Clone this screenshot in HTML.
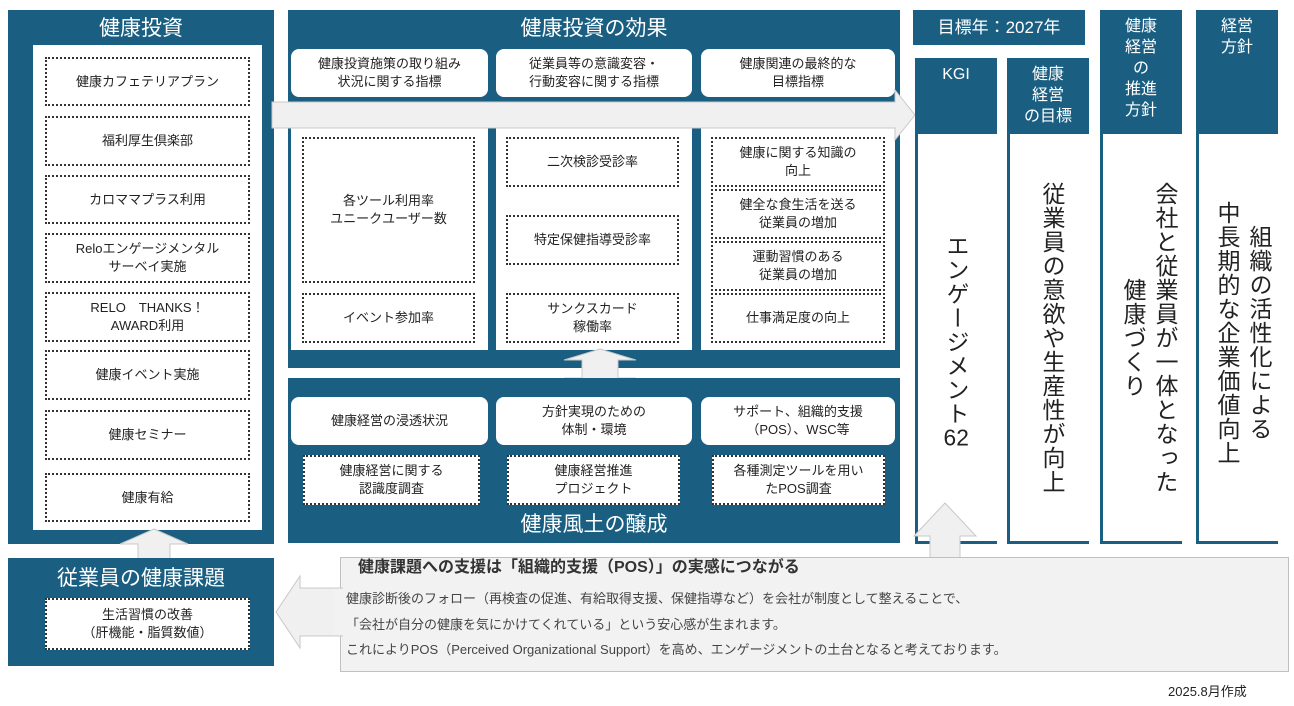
<!DOCTYPE html>
<html><head><meta charset="utf-8"><style>
body{margin:0;width:1294px;height:706px;background:#fff;position:relative;overflow:hidden;font-family:"Liberation Sans","Noto Sans CJK JP",sans-serif;color:#222}
.a{position:absolute;box-sizing:border-box}
.bl{background:#1a5f82}
.t{color:#fff;font-size:21px;text-align:center}
.w{background:#fff}
.d{background:#fff;border:2px dotted #333;display:flex;align-items:center;justify-content:center;text-align:center;font-size:13px;line-height:18px}
.r{background:#fff;border-radius:8px;display:flex;align-items:center;justify-content:center;text-align:center;font-size:13px;line-height:18px}
.col{border-left:3px solid #1a5f82;border-bottom:3px solid #1a5f82;background:#fff}
.hd{color:#fff;font-size:16px;text-align:center;line-height:21px;padding-top:6px}
.v{writing-mode:vertical-rl;font-size:23px;line-height:32px;letter-spacing:1px;text-align:center;position:absolute;color:#222;white-space:nowrap}
</style></head><body>
<!-- left panel -->
<div class="a bl" style="left:8px;top:10px;width:266px;height:534px"></div>
<div class="a t" style="left:8px;top:12px;width:266px">健康投資</div>
<div class="a w" style="left:33px;top:45px;width:229px;height:485px"></div>
<div class="a d" style="left:45px;top:57px;width:205px;height:49px">健康カフェテリアプラン</div>
<div class="a d" style="left:45px;top:116px;width:205px;height:50px">福利厚生倶楽部</div>
<div class="a d" style="left:45px;top:175px;width:205px;height:49px">カロママプラス利用</div>
<div class="a d" style="left:45px;top:233px;width:205px;height:50px">Reloエンゲージメンタル<br>サーベイ実施</div>
<div class="a d" style="left:45px;top:292px;width:205px;height:50px">RELO　THANKS！<br>AWARD利用</div>
<div class="a d" style="left:45px;top:350px;width:205px;height:50px">健康イベント実施</div>
<div class="a d" style="left:45px;top:410px;width:205px;height:50px">健康セミナー</div>
<div class="a d" style="left:45px;top:473px;width:205px;height:49px">健康有給</div>

<!-- middle top -->
<div class="a bl" style="left:288px;top:10px;width:612px;height:358px"></div>
<div class="a t" style="left:288px;top:12px;width:612px">健康投資の効果</div>
<div class="a r" style="left:291px;top:49px;width:197px;height:48px">健康投資施策の取り組み<br>状況に関する指標</div>
<div class="a r" style="left:496px;top:49px;width:196px;height:48px">従業員等の意識変容・<br>行動変容に関する指標</div>
<div class="a r" style="left:701px;top:49px;width:194px;height:48px">健康関連の最終的な<br>目標指標</div>
<div class="a w" style="left:291px;top:128px;width:197px;height:222px"></div>
<div class="a w" style="left:496px;top:128px;width:196px;height:222px"></div>
<div class="a w" style="left:701px;top:128px;width:194px;height:222px"></div>
<svg class="a" style="left:270px;top:88px" width="650" height="56"><polygon points="2,14 625,14 625,2 645,27 625,52 625,40 2,40" fill="#f0f0f0" stroke="#c8c8c8"/></svg>
<div class="a d" style="left:302px;top:137px;width:173px;height:146px">各ツール利用率<br>ユニークユーザー数</div>
<div class="a d" style="left:302px;top:293px;width:173px;height:50px">イベント参加率</div>
<div class="a d" style="left:506px;top:137px;width:173px;height:50px">二次検診受診率</div>
<div class="a d" style="left:506px;top:215px;width:173px;height:50px">特定保健指導受診率</div>
<div class="a d" style="left:506px;top:293px;width:173px;height:50px">サンクスカード<br>稼働率</div>
<div class="a d" style="left:711px;top:137px;width:174px;height:50px">健康に関する知識の<br>向上</div>
<div class="a d" style="left:711px;top:189px;width:174px;height:50px">健全な食生活を送る<br>従業員の増加</div>
<div class="a d" style="left:711px;top:241px;width:174px;height:50px">運動習慣のある<br>従業員の増加</div>
<div class="a d" style="left:711px;top:293px;width:174px;height:50px">仕事満足度の向上</div>

<!-- up-down arrow -->
<svg class="a" style="left:562px;top:348px" width="76" height="42"><polygon points="38,1 74,12 56,12 56,30 74,30 38,41 2,30 20,30 20,12 2,12" fill="#f0f0f0" stroke="#c8c8c8"/></svg>

<!-- middle bottom -->
<div class="a bl" style="left:288px;top:378px;width:612px;height:165px"></div>
<div class="a r" style="left:291px;top:397px;width:197px;height:48px">健康経営の浸透状況</div>
<div class="a r" style="left:496px;top:397px;width:196px;height:48px">方針実現のための<br>体制・環境</div>
<div class="a r" style="left:701px;top:397px;width:194px;height:48px">サポート、組織的支援<br>（POS）、WSC等</div>
<div class="a d" style="left:303px;top:455px;width:177px;height:50px">健康経営に関する<br>認識度調査</div>
<div class="a d" style="left:507px;top:455px;width:173px;height:50px">健康経営推進<br>プロジェクト</div>
<div class="a d" style="left:712px;top:455px;width:173px;height:50px">各種測定ツールを用い<br>たPOS調査</div>
<div class="a t" style="left:288px;top:508px;width:612px">健康風土の醸成</div>

<!-- right -->
<div class="a bl" style="left:913px;top:10px;width:172px;height:35px;color:#fff;font-size:17px;text-align:center;line-height:35px">目標年：2027年</div>
<div class="a col" style="left:915px;top:58px;width:82px;height:486px"></div>
<div class="a bl hd" style="left:915px;top:58px;width:82px;height:76px">KGI</div>
<div class="a col" style="left:1007px;top:58px;width:82px;height:486px"></div>
<div class="a bl hd" style="left:1007px;top:58px;width:82px;height:76px">健康<br>経営<br>の目標</div>
<div class="a col" style="left:1100px;top:10px;width:82px;height:534px"></div>
<div class="a bl hd" style="left:1100px;top:10px;width:82px;height:124px">健康<br>経営<br>の<br>推進<br>方針</div>
<div class="a col" style="left:1196px;top:10px;width:82px;height:534px"></div>
<div class="a bl hd" style="left:1196px;top:10px;width:82px;height:124px">経営<br>方針</div>

<div class="v" style="left:940px;top:226px;height:230px">エンゲージメント<span style="text-combine-upright:all">62</span></div>
<div class="v" style="left:1036px;top:180px;height:315px">従業員の意欲や生産性が向上</div>
<div class="v" style="left:1117px;top:180px;height:315px">会社と従業員が一体となった<br>健康づくり</div>
<div class="v" style="left:1211px;top:190px;height:285px">組織の活性化による<br>中長期的な企業価値向上</div>

<!-- left bottom -->
<svg class="a" style="left:118px;top:528px" width="72" height="34"><polygon points="36,1 70,16 52,16 52,33 20,33 20,16 2,16" fill="#f0f0f0" stroke="#c8c8c8"/></svg>
<div class="a bl" style="left:8px;top:558px;width:266px;height:108px"></div>
<div class="a t" style="left:8px;top:562px;width:266px">従業員の健康課題</div>
<div class="a d" style="left:45px;top:598px;width:205px;height:52px">生活習慣の改善<br>（肝機能・脂質数値）</div>

<!-- callout -->
<svg class="a" style="left:912px;top:502px" width="66" height="60"><polygon points="33,1 64,34 48,34 48,59 18,59 18,34 2,34" fill="#f0f0f0" stroke="#c8c8c8"/></svg>
<div class="a" style="left:340px;top:557px;width:949px;height:115px;background:#f2f2f2;border:1px solid #c0c0c0"></div>
<svg class="a" style="left:274px;top:574px" width="70" height="78"><polygon points="2,38 26,2 26,14 68,14 68,62 26,62 26,74" fill="#f0f0f0" stroke="#c8c8c8"/><rect x="60" y="15" width="10" height="46" fill="#f2f2f2"/></svg>
<div class="a" style="left:358px;top:558px;font-size:16px;font-weight:bold;color:#333;line-height:20px">健康課題への支援は「組織的支援（POS）」の実感につながる</div>
<div class="a" style="left:346px;top:586px;font-size:13px;color:#444;line-height:25.5px">健康診断後のフォロー（再検査の促進、有給取得支援、保健指導など）を会社が制度として整えることで、<br>「会社が自分の健康を気にかけてくれている」という安心感が生まれます。<br>これによりPOS（Perceived Organizational Support）を高め、エンゲージメントの土台となると考えております。</div>
<div class="a" style="left:1168px;top:681px;font-size:13px;color:#222">2025.8月作成</div>
</body></html>
